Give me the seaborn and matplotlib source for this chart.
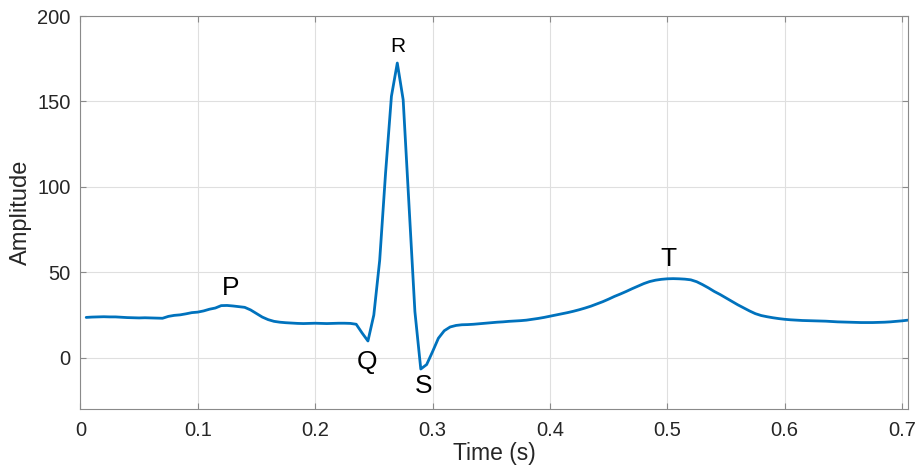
import numpy as np
import pandas as pd
import matplotlib
matplotlib.use("Agg")
import matplotlib.pyplot as plt
import seaborn as sns

# sampling: 200 Hz, samples 1..141
fs = 200
amplitude = [
    23.6, 23.8, 23.9, 24.0, 23.9, 23.9, 23.7, 23.5, 23.4, 23.3,
    23.4, 23.3, 23.2, 23.1, 24.2, 24.8, 25.1, 25.7, 26.4, 26.7,
    27.4, 28.4, 29.1, 30.5, 30.6, 30.3, 29.9, 29.5, 28.0, 25.9,
    23.8, 22.3, 21.3, 20.8, 20.5, 20.3, 20.1, 20.0, 20.1, 20.2,
    20.1, 20.0, 20.1, 20.2, 20.2, 20.1, 19.6, 14.5, 9.8, 25.0,
    57.0, 108.0, 153.0, 172.5, 151.0, 89.0, 27.0, -6.6, -4.0, 3.5,
    11.4, 15.8, 18.0, 18.9, 19.3, 19.4, 19.6, 19.9, 20.2, 20.5,
    20.8, 21.0, 21.3, 21.5, 21.7, 22.0, 22.5, 23.0, 23.6, 24.3,
    25.0, 25.7, 26.4, 27.2, 28.1, 29.1, 30.2, 31.5, 32.8, 34.3,
    35.9, 37.3, 38.8, 40.4, 41.9, 43.4, 44.6, 45.4, 45.9, 46.2,
    46.3, 46.2, 46.0, 45.6, 44.5, 42.8, 40.9, 38.8, 37.0, 35.0,
    33.0, 31.0, 29.2, 27.4, 25.8, 24.7, 24.0, 23.4, 22.9, 22.5,
    22.2, 22.0, 21.8, 21.7, 21.6, 21.5, 21.4, 21.2, 21.0, 20.9,
    20.8, 20.7, 20.6, 20.6, 20.6, 20.7, 20.8, 21.0, 21.3, 21.6,
    22.0,
]
time = np.arange(1, len(amplitude) + 1) / fs

wave_labels = ["P", "Q", "R", "S", "T"]
wave_t = [0.128, 0.244, 0.2705, 0.292, 0.501]
wave_v = [40.7, -2.3, 182.0, -16.3, 57.6]
wave_size = [19, 19, 15, 19, 19]

x_ticks = [0, 0.1, 0.2, 0.3, 0.4, 0.5, 0.6, 0.7]
y_ticks = [0, 50, 100, 150, 200]

sns.set_theme(style="white")
plt.rcParams["font.family"] = ["Liberation Sans", "DejaVu Sans"]

fig = plt.figure(figsize=(9.19, 4.72), dpi=100)
ax = fig.add_axes([0.0874, 0.1335, 0.9006, 0.8325])

df = pd.DataFrame({"Time": time, "Amplitude": amplitude})
sns.lineplot(data=df, x="Time", y="Amplitude", ax=ax, color="#0072BD", linewidth=2.0)

for lab, tx, vy, fsz in zip(wave_labels, wave_t, wave_v, wave_size):
    ax.text(tx, vy, lab, fontsize=fsz, ha="center", va="center", color="black")

ax.set_xlim(0, 0.705)
ax.set_ylim(-30, 200)
ax.set_xticks(x_ticks)
ax.set_xticklabels([f"{v:g}" for v in x_ticks])
ax.set_yticks(y_ticks)
ax.grid(True, color="#dfdfdf", linewidth=0.8)
ax.set_axisbelow(True)
for s in ax.spines.values():
    s.set_visible(True)
    s.set_color("#8a8a8a")
    s.set_linewidth(0.8)
ax.tick_params(direction="in", length=4, width=0.8, color="#8a8a8a",
               top=True, right=True, bottom=True, left=True,
               labelsize=14.5, labelcolor="#262626")
ax.tick_params(axis="x", pad=9)
ax.tick_params(axis="y", pad=7)
ax.set_xlabel("Time (s)", fontsize=16.5, color="#262626", labelpad=1)
ax.set_ylabel("Amplitude", fontsize=17, color="#262626", labelpad=4)

fig.savefig("out.png", dpi=100)
